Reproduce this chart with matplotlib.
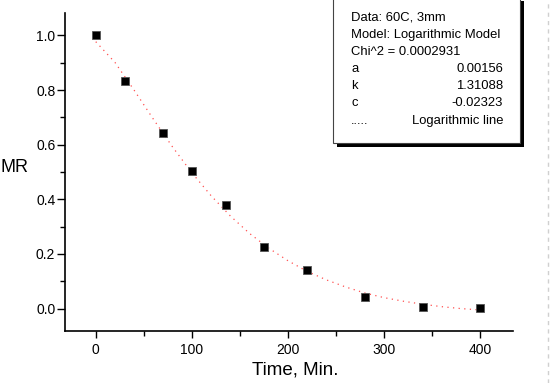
import numpy as np
import matplotlib
matplotlib.use("Agg")
import matplotlib.pyplot as plt
from matplotlib.patches import Rectangle
from matplotlib.lines import Line2D
from matplotlib.ticker import MultipleLocator, FormatStrFormatter

plt.rcParams['font.family'] = ['Liberation Sans', 'DejaVu Sans']

############ measured points ##############################
time_min = [0, 30, 70, 100, 135, 175, 220, 280, 340, 400]
mr_data  = [1.0, 0.833, 0.641, 0.504, 0.381, 0.224, 0.143, 0.041, 0.006, 0.001]

############ fitted line ############
fit_time = [0, 20, 40, 60, 80, 100, 120, 140, 160, 180, 200,
            220, 240, 260, 280, 300, 320, 340, 360, 380, 400]
fit_mr   = [0.977, 0.901, 0.799, 0.693, 0.591, 0.497, 0.413, 0.339, 0.275, 0.221, 0.175,
            0.136, 0.105, 0.079, 0.057, 0.040, 0.027, 0.016, 0.007, 0.000, -0.005]

legend_rows = [("Data: 60C, 3mm", ""),
               ("Model: Logarithmic Model", ""),
               ("Chi^2 = 0.0002931", ""),
               ("a", "0.00156"),
               ("k", "1.31088"),
               ("c", "-0.02323"),
               (".....", "Logarithmic line")]

W, H = 550, 383
fig = plt.figure(figsize=(W/100, H/100), dpi=100)
ax = fig.add_axes([65/W, 1-331/H, (513-65)/W, (331-13)/H])

ax.plot(fit_time, fit_mr, color='#ff5050', lw=0.9, linestyle=(0, (1, 3.5)))
ax.plot(time_min, mr_data, 's', color='black', ms=5.2, mec='#555555', mew=0.6)

ax.set_xlim(-32, 434)
ax.set_ylim(-0.082, 1.082)
ax.spines['top'].set_visible(False)
ax.spines['right'].set_visible(False)
ax.spines['left'].set_linewidth(1.2)
ax.spines['bottom'].set_linewidth(1.2)
ax.xaxis.set_major_locator(MultipleLocator(100))
ax.xaxis.set_minor_locator(MultipleLocator(50))
ax.yaxis.set_major_locator(MultipleLocator(0.2))
ax.yaxis.set_minor_locator(MultipleLocator(0.1))
ax.yaxis.set_major_formatter(FormatStrFormatter('%.1f'))
ax.tick_params(which='major', direction='out', width=1, labelsize=10)
ax.tick_params(axis='y', which='major', length=6, pad=1)
ax.tick_params(axis='x', which='major', length=5, pad=4)
ax.tick_params(which='minor', direction='out', length=3.5, width=1)

fig.text(295/W, 1-370/H, 'Time, Min.', fontsize=13.5, va='center', ha='center')
fig.text(1/W, 1-167/H, 'MR', fontsize=13, va='center', ha='left')

############ legend box with shadow #######################
px = lambda x, y: (x/W, 1-y/H)
x0, x1, y0, y1 = 333, 520, -3, 143
fig.patches.append(Rectangle(px(x0+4, y1+4), (x1-x0)/W, (y1-y0)/H,
                             transform=fig.transFigure, facecolor='black', edgecolor='none'))
fig.patches.append(Rectangle(px(x0, y1), (x1-x0)/W, (y1-y0)/H,
                             transform=fig.transFigure, facecolor='white',
                             edgecolor='#444444', lw=0.8))
for i, (left, right) in enumerate(legend_rows):
    y = 17.5 + i*17.2
    fig.text(*px(351, y), left, fontsize=9.4, va='center', ha='left')
    if right:
        fig.text(*px(503, y), right, fontsize=9.4, va='center', ha='right')

# faint dashed border at the right
fig.add_artist(Line2D([547.5/W, 547.5/W], [0, 1], transform=fig.transFigure,
                      color='#d0d0d0', lw=1, linestyle=(0, (3, 3))))

fig.savefig('out.png', dpi=100)
